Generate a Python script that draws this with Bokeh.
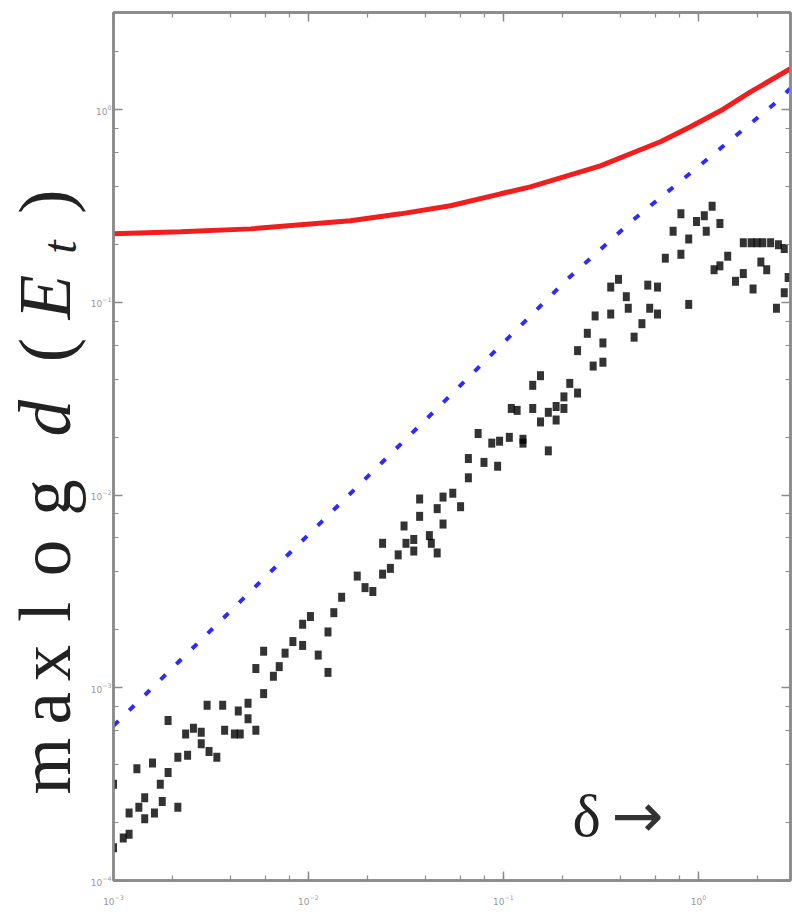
import math
from bokeh.plotting import figure
from bokeh.layouts import row
from bokeh.models import Range1d, LogAxis, Label, LogTicker, ColumnDataSource
from bokeh.core.properties import value
from bokeh.embed import file_html
from bokeh.resources import INLINE

# ---------------- data (log10 values) ----------------
delta_log10 = [
    -3.00, -3.00, -2.95, -2.92, -2.92, -2.88, -2.87, -2.84, -2.84, -2.80,
    -2.79, -2.76, -2.75, -2.72, -2.72, -2.67, -2.67, -2.63, -2.62, -2.59,
    -2.55, -2.55, -2.52, -2.51, -2.47, -2.44, -2.43, -2.38, -2.36, -2.35,
    -2.31, -2.31, -2.27, -2.27, -2.23, -2.23, -2.18, -2.15, -2.12, -2.08,
    -2.03, -1.99, -2.03, -1.95, -1.90, -1.90, -1.87, -1.83, -1.75, -1.71,
    -1.67, -1.62, -1.62, -1.58, -1.54, -1.51, -1.50, -1.46, -1.46, -1.43,
    -1.43, -1.38, -1.37, -1.34, -1.34, -1.31, -1.31, -1.26, -1.22, -1.18,
    -1.18, -1.13, -1.10, -1.06, -1.03, -1.02, -0.97, -0.90, -0.90, -0.77,
    -0.96, -0.93, -0.85, -0.85, -0.81, -0.81, -0.77, -0.73, -0.73, -0.69,
    -0.69, -0.66, -0.62, -0.62, -0.57, -0.53, -0.54, -0.49, -0.49, -0.45,
    -0.45, -0.41, -0.37, -0.36, -0.33, -0.29, -0.26, -0.21, -0.25, -0.21,
    -0.17, -0.13, -0.09, -0.09, -0.05, -0.05, -0.01, 0.03, 0.04, 0.07,
    0.11, 0.08, 0.11, 0.15, 0.19, 0.23, 0.28, 0.23, 0.27, 0.30,
    0.33, 0.37, 0.41, 0.44, 0.32, 0.35, 0.44, 0.40, 0.46,
]
dist_log10 = [
    -3.50, -3.83, -3.78, -3.76, -3.65, -3.42, -3.62, -3.57, -3.68, -3.39,
    -3.65, -3.50, -3.59, -3.17, -3.44, -3.36, -3.62, -3.24, -3.35, -3.21,
    -3.23, -3.29, -3.09, -3.33, -3.36, -3.09, -3.22, -3.24, -3.12, -3.24,
    -3.16, -3.08, -3.22, -2.90, -2.81, -3.03, -2.94, -2.89, -2.82, -2.76,
    -2.67, -2.63, -2.78, -2.83, -2.92, -2.71, -2.61, -2.53, -2.42, -2.48,
    -2.50, -2.41, -2.25, -2.38, -2.31, -2.16, -2.25, -2.23, -2.29, -2.02,
    -2.11, -2.21, -2.25, -2.30, -2.07, -2.01, -2.15, -1.99, -2.06, -1.81,
    -1.91, -1.68, -1.83, -1.73, -1.85, -1.72, -1.70, -1.71, -1.73, -1.77,
    -1.55, -1.56, -1.55, -1.43, -1.38, -1.62, -1.57, -1.54, -1.61, -1.49,
    -1.55, -1.42, -1.47, -1.25, -1.16, -1.07, -1.33, -1.31, -1.21, -1.06,
    -0.92, -0.88, -0.97, -1.03, -1.18, -1.11, -0.91, -0.92, -1.03, -1.06,
    -0.77, -0.63, -0.54, -0.75, -0.67, -1.01, -0.58, -0.55, -0.63, -0.50,
    -0.59, -0.83, -0.81, -0.76, -0.89, -0.85, -0.93, -0.69, -0.69, -0.69,
    -0.69, -0.69, -0.70, -0.72, -0.79, -0.83, -0.95, -1.03, -0.87,
]

# upper bound (solid red curve)
bound_delta_log10 = [-3.000, -2.656, -2.297, -1.785, -1.528, -1.272, -1.015, -0.862,
                     -0.708, -0.503, -0.349, -0.195, -0.041, 0.113, 0.267, 0.472]
bound_log10 = [-0.643, -0.633, -0.618, -0.576, -0.540, -0.498, -0.436, -0.400,
               -0.353, -0.291, -0.228, -0.166, -0.088, -0.005, 0.093, 0.213]

# reference slope (blue dashed line)
ref_delta_log10 = [-3.00, -2.10, -1.31, -0.67, -0.34, 0.08, 0.42, 0.47]
ref_log10 = [-3.197, -2.304, -1.520, -0.877, -0.576, -0.228, 0.057, 0.110]

X_MIN_LOG, X_MAX_LOG = -3.0, 0.472
Y_MIN_LOG, Y_MAX_LOG = -4.0, 0.505

pts = ColumnDataSource(dict(x=[10 ** v for v in delta_log10], y=[10 ** v for v in dist_log10]))
bnd = ColumnDataSource(dict(x=[10 ** v for v in bound_delta_log10], y=[10 ** v for v in bound_log10]))
ref = ColumnDataSource(dict(x=[10 ** v for v in ref_delta_log10], y=[10 ** v for v in ref_log10]))

LEFT_W = 86
p = figure(width=792 - LEFT_W, height=918, x_axis_type="log", y_axis_type="log",
           x_range=Range1d(10 ** X_MIN_LOG, 10 ** X_MAX_LOG),
           y_range=Range1d(10 ** Y_MIN_LOG, 10 ** Y_MAX_LOG),
           output_backend="svg", toolbar_location=None,
           min_border_left=113 - LEFT_W, min_border_right=2, min_border_top=12, min_border_bottom=38)

p.background_fill_color = "white"
p.border_fill_color = "white"
p.outline_line_color = "#8a8a8a"
p.outline_line_width = 2.5
p.xgrid.visible = False
p.ygrid.visible = False

GRAY = "#8a8a8a"

def style_axis(ax, show_labels=True):
    ax.axis_line_color = GRAY
    ax.axis_line_width = 2.5
    ax.major_tick_line_color = GRAY
    ax.minor_tick_line_color = GRAY
    ax.major_tick_line_width = 1.5
    ax.minor_tick_line_width = 1.2
    ax.major_tick_in = 9
    ax.major_tick_out = 0
    ax.minor_tick_in = 5
    ax.minor_tick_out = 0
    ax.major_label_text_color = "#999999"
    ax.major_label_text_font = "DejaVu Sans"
    ax.major_label_text_font_size = "9px"
    if not show_labels:
        ax.major_label_text_alpha = 0
        ax.major_label_text_font_size = "2px"
        ax.major_label_standoff = 0

xa = p.xaxis[0]
ya = p.yaxis[0]
xa.ticker = LogTicker(desired_num_ticks=4)
ya.ticker = LogTicker(desired_num_ticks=5)
style_axis(xa)
style_axis(ya)
xa.major_label_standoff = 14
ya.major_label_standoff = 2

top = LogAxis(ticker=LogTicker(desired_num_ticks=4))
right = LogAxis(ticker=LogTicker(desired_num_ticks=5))
style_axis(top, False)
style_axis(right, False)
p.add_layout(top, "above")
p.add_layout(right, "right")

# glyphs
p.line("x", "y", source=bnd, line_color="#f21d1d", line_width=5)
p.line("x", "y", source=ref, line_color="#2b2bff", line_width=4, line_dash="7 15")
p.rect("x", "y", source=pts, width=7, height=9, width_units="screen", height_units="screen",
       fill_color="black", fill_alpha=0.8, line_color=None)

# "delta ->" annotation (text placement helper: screen px -> data coords)
def sx(px):
    return 10 ** (X_MIN_LOG + (px - 113) / 195.0)

def sy(py):
    return 10 ** ((109 - py) / 192.7)

p.add_layout(Label(x=sx(572), y=sy(815), text="δ", text_font="Liberation Serif",
                   text_font_size="60px", text_color="#222222",
                   text_align="left", text_baseline="middle"))
p.add_layout(Label(x=sx(611), y=sy(815), text="→", text_font="DejaVu Sans",
                   text_font_size="62px", text_color="#333333",
                   text_align="left", text_baseline="middle"))

# ---------------- left strip carrying the rotated y-axis title ----------------
lab = figure(width=LEFT_W, height=918, x_range=Range1d(0, LEFT_W), y_range=Range1d(918, 0),
             x_axis_location=None, y_axis_location=None, output_backend="svg",
             toolbar_location=None, min_border=0)
lab.outline_line_color = None
lab.background_fill_color = "white"
lab.border_fill_color = "white"
lab.grid.visible = False

SERIF = value("Liberation Serif")
FS = value("73px")
AX = 45  # centre column of the rotated letters
upright = dict(x=[AX] * 8, y=[797, 736, 688, 634, 577, 513, 357, 200],
               t=["m", "a", "x", "l", "o", "g", "(", ")"])
italic = dict(x=[AX, AX], y=[429, 301], t=["d", "E"])
lab.text(x="x", y="y", text="t", source=ColumnDataSource(upright), angle=math.pi / 2,
         text_font=SERIF, text_font_size=FS, text_color="#222222",
         text_align="center", text_baseline="middle")
lab.text(x="x", y="y", text="t", source=ColumnDataSource(italic), angle=math.pi / 2,
         text_font=SERIF, text_font_style="italic", text_font_size=FS, text_color="#222222",
         text_align="center", text_baseline="middle")
lab.text(x=[59], y=[248], text=["t"], angle=math.pi / 2,
         text_font=SERIF, text_font_style="italic", text_font_size=value("48px"),
         text_color="#222222", text_align="center", text_baseline="middle")

layout = row(lab, p, spacing=0)
open("out.html", "w").write(file_html(layout, INLINE))
